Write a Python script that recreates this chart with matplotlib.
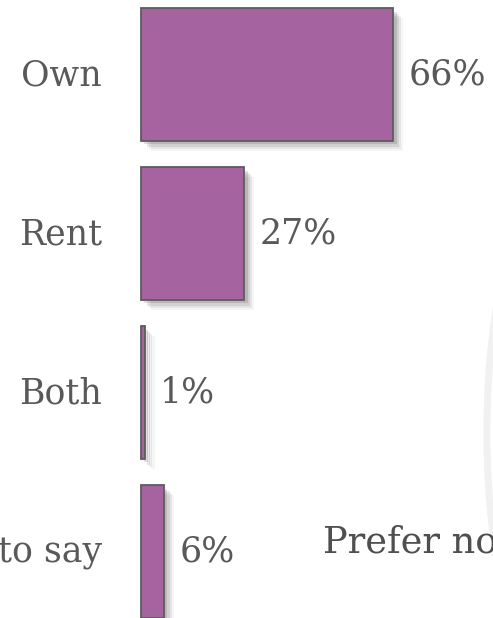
import matplotlib
matplotlib.use('Agg')
import matplotlib.pyplot as plt
import matplotlib.patheffects as pe
from matplotlib.patches import Arc

plt.rcParams['font.family'] = ['DejaVu Serif']

categories = ['Own', 'Rent', 'Both', 'Prefer not to say']
values = [66, 27, 1, 6]
value_labels = ['66%', '27%', '1%', '6%']

bar_color = '#A5639F'
edge_color = '#5C5C5C'
text_color = '#595959'

fig = plt.figure(figsize=(4.93, 6.18), dpi=100)
ax = fig.add_axes([0, 0, 1, 1])

ypos = list(range(len(categories)))

# soft drop shadow built from a few offset layers
shadow = []
for k, a in [(7, 0.04), (5.5, 0.06), (4, 0.09), (2.5, 0.12)]:
    shadow.append(pe.SimplePatchShadow(offset=(k, -k), shadow_rgbFace='black', alpha=a))
shadow.append(pe.Normal())

bars = ax.barh(ypos, values, height=0.836, color=bar_color,
               edgecolor=edge_color, linewidth=1.3)
for b in bars:
    b.set_path_effects(shadow)

# percentage labels right of each bar
for y, v, lab in zip(ypos, values, value_labels):
    ax.annotate(lab, (v, y), xytext=(11, 2.5), textcoords='offset points',
                ha='left', va='center_baseline', fontsize=25, color=text_color)

# category names on the left; the long one spills over
short_names = ['Own', 'Rent', 'Both', 'to say']
for y, name in zip(ypos, short_names):
    ax.annotate(name, (0, y), xytext=(-28, 1.5), textcoords='offset points',
                ha='right', va='center_baseline', fontsize=25, color=text_color)
ax.annotate('Prefer no', (0, 3), xytext=(131, 9.5), textcoords='offset points',
            ha='left', va='center_baseline', fontsize=26.5, color='#4F4F4F')

# faint curved edge on the right
ax.add_patch(Arc((90.5 + 18, 2.25), 36, 3.1, theta1=112, theta2=248,
                 color='#F1F1F1', linewidth=5))

ax.set_xlim(-36.9, 92.1)
ax.set_ylim(3.418, -0.4686)
ax.axis('off')

fig.savefig('out.png', dpi=100, facecolor='white')
